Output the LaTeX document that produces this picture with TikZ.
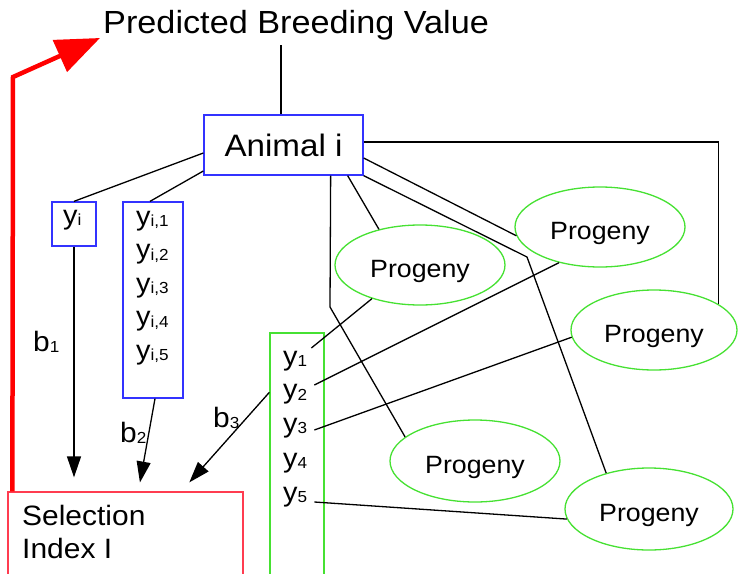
\documentclass[tikz,border=0pt]{standalone}
\usepackage{fontspec}
\setmainfont{Liberation Sans}[FakeStretch=1.07]
\usetikzlibrary{arrows.meta,shapes.geometric,calc}
\definecolor{blu}{RGB}{51,51,255}
\definecolor{grn}{RGB}{70,225,50}
\definecolor{redbox}{RGB}{255,60,80}
\newcommand\fsz[1]{\fontsize{#1}{#1}\selectfont}
\newcommand\sbs[1]{{\fsz{16}\raisebox{-1.5pt}{#1}}}
\begin{document}
\begin{tikzpicture}[x=1pt,y=-1pt,
  conn/.style={draw=black, line width=1.3pt},
  bluebox/.style={draw=blu, line width=1.3pt, rectangle, inner sep=0pt},
  greenbox/.style={draw=grn, line width=1.3pt, rectangle, inner sep=0pt},
  redrect/.style={draw=redbox, line width=1.3pt, rectangle, inner sep=0pt},
  prog/.style={draw=grn, line width=1.3pt, ellipse, minimum width=170pt, minimum height=80pt, inner sep=0pt, text height=24pt, text depth=0pt, font=\fsz{25}},
  lab/.style={inner sep=0pt, anchor=base west, font=\fsz{27}},
  blab/.style={inner sep=0pt, anchor=base west, font=\fsz{28}},
  arr/.style={conn, -{Triangle[width=14pt,length=21pt]}},
]
\path[use as bounding box] (0,0) rectangle (739,573);
\clip (0,0) rectangle (739,573);

% nodes
\node[inner sep=0pt, anchor=base west, font=\fsz{32}] (pbv) at (103,33) {Predicted Breeding Value};
\node[bluebox, minimum width=159pt, minimum height=60pt, font=\fsz{31}] (animal) at (283.5,145) {Animal i};

\node[bluebox, minimum width=44pt, minimum height=44pt] (yi) at (74,224) {};
\node[lab] (yilab) at (63,224) {y\sbs{i}};

\node[bluebox, minimum width=60pt, minimum height=196pt] (yis) at (153,300) {};
\node[lab] (yi1) at (136,225) {y\sbs{i,1}};
\node[lab] (yi2) at (136,258.5) {y\sbs{i,2}};
\node[lab] (yi3) at (136,292) {y\sbs{i,3}};
\node[lab] (yi4) at (136,325.5) {y\sbs{i,4}};
\node[lab] (yi5) at (136,359) {y\sbs{i,5}};

\node[greenbox, minimum width=54pt, minimum height=242pt] (gbox) at (297,454) {};
\node[lab] (y1) at (283,365) {y\sbs{1}};
\node[lab] (y2) at (283,398.5) {y\sbs{2}};
\node[lab] (y3) at (283,432) {y\sbs{3}};
\node[lab] (y4) at (283,467) {y\sbs{4}};
\node[lab] (y5) at (283,501) {y\sbs{5}};

\node[redrect, minimum width=235pt, minimum height=83pt] (sel) at (125.5,533.5) {};
\node[blab] (sel1) at (22,525) {Selection};
\node[blab] (sel2) at (22,558) {Index I};

\node[prog] (p1) at (420,265) {Progeny};
\node[prog] (p2) at (600,227) {Progeny};
\node[prog, minimum width=166pt] (p3) at (654,330) {Progeny};
\node[prog, minimum height=82pt] (p4) at (475,461) {Progeny};
\node[prog, minimum width=168pt, minimum height=82pt] (p5) at (649,509) {Progeny};

\node[blab] (b1) at (33,351) {b\sbs{1}};
\node[blab] (b2) at (120,442) {b\sbs{2}};
\node[blab] (b3) at (213,427) {b\sbs{3}};

% connectors from the animal
\draw[conn] ([xshift=-2.5pt]animal.north) -- ($(animal.north |- pbv.south)+(-2.5,5)$);
\draw[conn] ([yshift=-8pt]animal.west) -- (yi.north);
\draw[conn] ([yshift=-26pt]animal.west) -- ([xshift=-3pt]yis.north);
\draw[conn] ([yshift=3pt]animal.east) -| (p3.22);
\draw[conn] ([yshift=-13pt]animal.east) -- (p2.186);
\coordinate (k5) at (527,257);
\draw[conn] (animal.south east) -- (k5) -- (p5.140);
\draw[conn] ([xshift=-16pt]animal.south east) -- (p1.139);
\coordinate (k4) at (330,307);
\draw[conn] ([xshift=-33pt]animal.south east) -- (k4) -- (p4.161);

% connectors from the progeny records
\draw[conn] ($(y1.base east)+(4,-17)$) -- (p1.215);
\draw[conn] ($(y2.base east)+(7,-13.5)$) -- (p2.221);
\draw[conn] ($(y3.base east)+(7,-2)$) -- (p3.185);
\draw[conn] ($(y4.base east)+(7,-3)$) -- ($(y4.base east)+(7,-3)$ -| p4.west);
\draw[conn] ($(y5.base east)+(7,1)$) -- (p5.187);

% arrows to the index
\draw[arr, shorten >=14pt] (yi.south) -- (yi.south |- sel.north);
\draw[arr, shorten >=9pt] ([xshift=2pt]yis.south) -- ($(sel.north west)+(131,0)$);
\draw[arr, shorten >=12pt] ($(gbox.north west)+(0,60)$) -- ($(sel.north west)+(174,0)$);

% red arrow
\coordinate (rk) at (13,77);
\draw[red, line width=4.5pt, -{Triangle[width=34pt,length=44pt]}] ([xshift=5pt]sel.north west) -- (rk) -- ($(pbv.base west)+(-3,5)$);
\end{tikzpicture}
\end{document}
